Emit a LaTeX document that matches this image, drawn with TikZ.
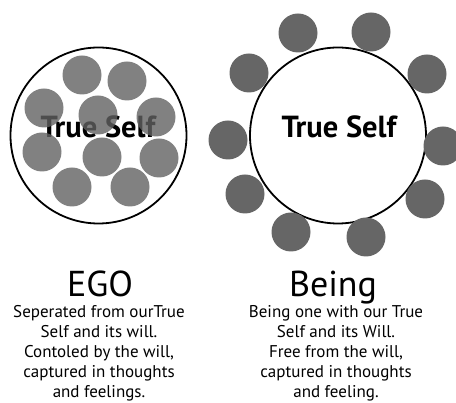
\documentclass[tikz,border=0pt]{standalone}
\usepackage{fontspec}
\setmainfont{PT Sans}
\usepackage{tikz}
\usetikzlibrary{positioning}

\begin{document}
\begin{tikzpicture}[x=1pt,y=-1pt,
        self/.style={circle,draw,line width=1.8pt,minimum size=176pt,inner sep=0pt},
        thought/.style={circle,inner sep=0pt,minimum size=39pt},
        egothought/.style={thought,fill=black!62,fill opacity=.8},
        beingthought/.style={thought,fill=black!60},
        selflabel/.style={font=\bfseries\fontsize{30.5}{30.5}\selectfont},
        title/.style={font=\fontsize{36}{36}\selectfont},
        body/.style={align=center,font=\fontsize{17}{20}\selectfont}]
        \useasboundingbox (0,0) rectangle (456,403);
        \clip (0,0) rectangle (456,403);
        %ego
        \node[self] (ego) at (98.5,135.5) {};
        \node[selflabel] (egoself) at (98,127) {True Self};
        \foreach \n/\x/\y in {1/82/75, 2/127/81, 3/44/108, 4/98/115, 5/156/117,
                6/42/152, 7/102/157, 8/159/158, 9/72/187, 10/130/187}
            \node[egothought] (e\n) at (\x,\y) {};
        %being
        \node[self] (being) at (338,135.5) {};
        \node[selflabel] (beingself) at (339,127) {True Self};
        \foreach \n/\x/\y in {1/298/33, 2/371/32, 3/249/73, 4/427/74, 5/228/140,
                6/443/146, 7/245/194, 8/425/199, 9/291/232, 10/366/237}
            \node[beingthought] (b\n) at (\x,\y) {};
        %texts
        \node[title,anchor=base] (egotitle) at (100,297) {EGO};
        \node[body,anchor=north] (egotext) at (99,302) {Seperated from ourTrue\\Self and its will.\\Contoled by the will,\\captured in thoughts\\and feelings.};
        \node[title,anchor=base] (beingtitle) at (333,297) {Being};
        \node[body,anchor=north] (beingtext) at (336,302) {Being one with our True\\Self and its Will.\\Free from the will,\\captured in thoughts\\and feeling.};
    \end{tikzpicture}
\end{document}
